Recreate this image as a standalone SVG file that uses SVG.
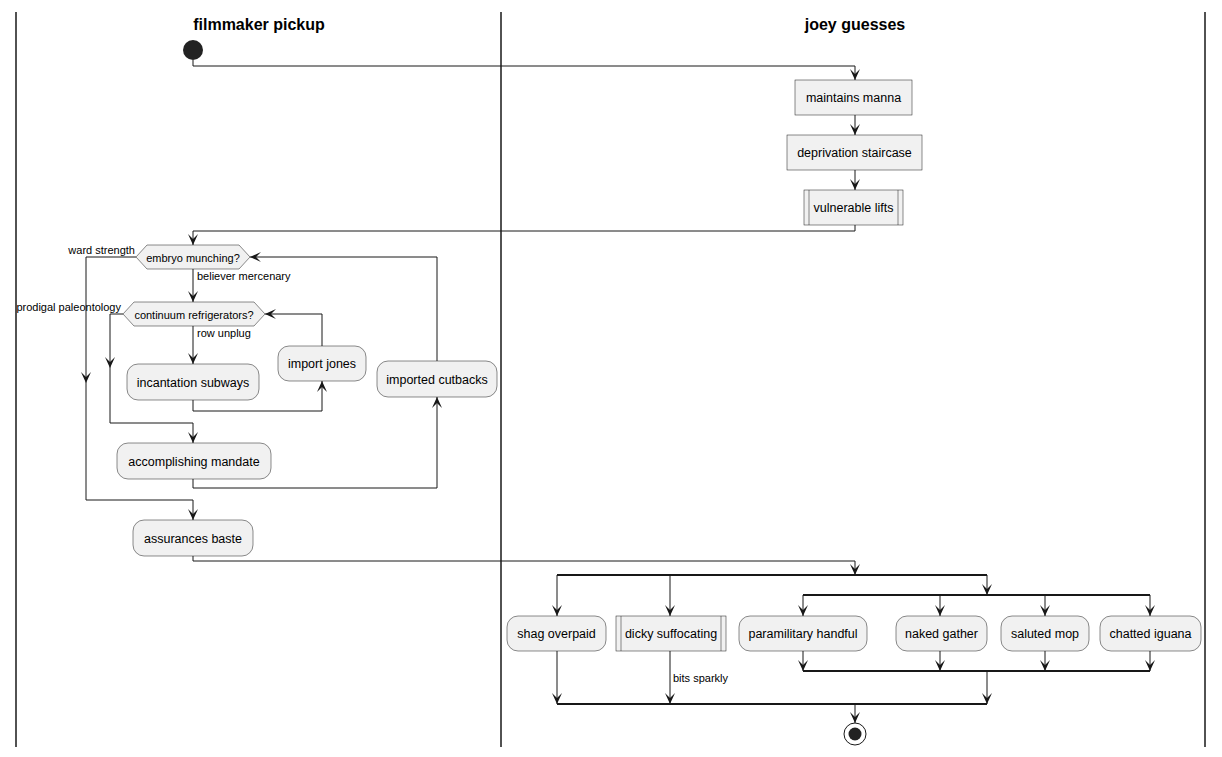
<svg xmlns="http://www.w3.org/2000/svg" xmlns:xlink="http://www.w3.org/1999/xlink" width="1222" height="757" viewBox="0 0 1222 757">
<style>
.lane{stroke:#181818;stroke-width:1.5;fill:none}
.title{font-family:"Liberation Sans",Arial,sans-serif;font-size:16px;font-weight:bold;fill:#000;text-anchor:middle}
.box{fill:#F1F1F1;stroke:#181818;stroke-width:0.5}
.t{font-family:"Liberation Sans",Arial,sans-serif;font-size:12.5px;fill:#000;text-anchor:middle}
.ht{font-family:"Liberation Sans",Arial,sans-serif;font-size:11px;fill:#000;text-anchor:middle}
.lbl{font-family:"Liberation Sans",Arial,sans-serif;font-size:11px;fill:#000}
.ln{stroke:#181818;stroke-width:1;fill:none}
.bar{stroke:#181818;stroke-width:2.2;fill:none}
.ah{fill:#181818}
</style>
<defs>
<path id="ah" d="M0,0 L-5,-11 L0,-6 L5,-11 Z"/>
</defs>
<g id="lanes">
<line class="lane" x1="16" y1="12" x2="16" y2="747"/>
<line class="lane" x1="501" y1="12" x2="501" y2="747"/>
<line class="lane" x1="1205" y1="12" x2="1205" y2="747"/>
<text class="title" x="259" y="30">filmmaker pickup</text>
<text class="title" x="855" y="30">joey guesses</text>
</g>
<g id="start"><circle cx="193" cy="50" r="10" fill="#222222"/></g>
<g id="maintains-manna"><rect class="box" x="795" y="80" width="117" height="35"/><text class="t" x="853.5" y="102">maintains manna</text></g>
<g id="deprivation-staircase"><rect class="box" x="787" y="135" width="135" height="35"/><text class="t" x="854.5" y="157">deprivation staircase</text></g>
<g id="vulnerable-lifts"><rect class="box" x="804" y="190" width="99" height="35"/><line class="box" x1="809" y1="190" x2="809" y2="225"/><line class="box" x1="898" y1="190" x2="898" y2="225"/><text class="t" x="853.5" y="212">vulnerable lifts</text></g>
<g id="embryo-munching"><polygon class="box" points="136,257 147,245 239,245 250,257 239,269 147,269"/><text class="ht" x="193" y="261.5">embryo munching?</text></g>
<g id="continuum-refrigerators"><polygon class="box" points="123,314 134,302 254,302 265,314 254,326 134,326"/><text class="ht" x="194" y="318.5">continuum refrigerators?</text></g>
<g id="incantation-subways"><rect class="box" x="127" y="364" width="132" height="36" rx="11"/><text class="t" x="193" y="386.5">incantation subways</text></g>
<g id="import-jones"><rect class="box" x="278" y="346" width="88" height="35" rx="11"/><text class="t" x="322" y="368">import jones</text></g>
<g id="imported-cutbacks"><rect class="box" x="377" y="361" width="120" height="36" rx="11"/><text class="t" x="437" y="383.5">imported cutbacks</text></g>
<g id="accomplishing-mandate"><rect class="box" x="117" y="443" width="154" height="36" rx="11"/><text class="t" x="194" y="465.5">accomplishing mandate</text></g>
<g id="assurances-baste"><rect class="box" x="133" y="520" width="120" height="36" rx="11"/><text class="t" x="193" y="542.5">assurances baste</text></g>
<g id="shag-overpaid"><rect class="box" x="507" y="616" width="99" height="35" rx="11"/><text class="t" x="556.5" y="638">shag overpaid</text></g>
<g id="dicky-suffocating"><rect class="box" x="616" y="616" width="110" height="35"/><line class="box" x1="621" y1="616" x2="621" y2="651"/><line class="box" x1="721" y1="616" x2="721" y2="651"/><text class="t" x="671" y="638">dicky suffocating</text></g>
<g id="paramilitary-handful"><rect class="box" x="739" y="616" width="128" height="35" rx="11"/><text class="t" x="803" y="638">paramilitary handful</text></g>
<g id="naked-gather"><rect class="box" x="896" y="616" width="91" height="35" rx="11"/><text class="t" x="941.5" y="638">naked gather</text></g>
<g id="saluted-mop"><rect class="box" x="1001" y="616" width="88" height="35" rx="11"/><text class="t" x="1045" y="638">saluted mop</text></g>
<g id="chatted-iguana"><rect class="box" x="1100" y="616" width="101" height="35" rx="11"/><text class="t" x="1150.5" y="638">chatted iguana</text></g>
<g id="end"><circle cx="855" cy="734" r="11" fill="none" stroke="#181818" stroke-width="1"/><circle cx="855" cy="734" r="6.5" fill="#222222"/></g>
<g id="connectors">
<path class="ln" d="M193,60 V66 H855 V80"/>
<path class="ln" d="M855,115 V135"/>
<path class="ln" d="M855,170 V190"/>
<path class="ln" d="M855,225 V231 H193 V245"/>
<path class="ln" d="M136,257 H86 V500 H193 V520"/>
<path class="ln" d="M193,269 V302"/>
<path class="ln" d="M123,314 H110 V423 H193 V443"/>
<path class="ln" d="M193,326 V364"/>
<path class="ln" d="M193,400 V411 H322 V381"/>
<path class="ln" d="M322,346 V314 H265"/>
<path class="ln" d="M193,479 V488 H437 V397"/>
<path class="ln" d="M437,361 V257 H250"/>
<path class="ln" d="M193,556 V561 H855 V575"/>
<line class="bar" x1="557" y1="575" x2="987" y2="575"/>
<path class="ln" d="M557,575 V616"/>
<path class="ln" d="M670,575 V616"/>
<path class="ln" d="M987,575 V595"/>
<line class="bar" x1="803" y1="595" x2="1150" y2="595"/>
<path class="ln" d="M803,595 V616 M940,595 V616 M1045,595 V616 M1150,595 V616"/>
<path class="ln" d="M803,651 V671 M940,651 V671 M1045,651 V671 M1150,651 V671"/>
<line class="bar" x1="803" y1="671" x2="1150" y2="671"/>
<path class="ln" d="M987,671 V704"/>
<path class="ln" d="M557,651 V704 M670,651 V704"/>
<line class="bar" x1="557" y1="704" x2="987" y2="704"/>
<path class="ln" d="M855,704 V723"/>
<g class="ah">
<use xlink:href="#ah" transform="translate(855,80)"/>
<use xlink:href="#ah" transform="translate(855,135)"/>
<use xlink:href="#ah" transform="translate(855,190)"/>
<use xlink:href="#ah" transform="translate(193,245)"/>
<use xlink:href="#ah" transform="translate(193,302)"/>
<use xlink:href="#ah" transform="translate(86,383)"/>
<use xlink:href="#ah" transform="translate(193,520)"/>
<use xlink:href="#ah" transform="translate(110,368)"/>
<use xlink:href="#ah" transform="translate(193,443)"/>
<use xlink:href="#ah" transform="translate(193,364)"/>
<use xlink:href="#ah" transform="translate(322,381) rotate(180)"/>
<use xlink:href="#ah" transform="translate(265,314) rotate(90)"/>
<use xlink:href="#ah" transform="translate(437,397) rotate(180)"/>
<use xlink:href="#ah" transform="translate(250,257) rotate(90)"/>
<use xlink:href="#ah" transform="translate(855,575)"/>
<use xlink:href="#ah" transform="translate(557,616)"/>
<use xlink:href="#ah" transform="translate(670,616)"/>
<use xlink:href="#ah" transform="translate(987,595)"/>
<use xlink:href="#ah" transform="translate(803,616)"/>
<use xlink:href="#ah" transform="translate(940,616)"/>
<use xlink:href="#ah" transform="translate(1045,616)"/>
<use xlink:href="#ah" transform="translate(1150,616)"/>
<use xlink:href="#ah" transform="translate(803,671)"/>
<use xlink:href="#ah" transform="translate(940,671)"/>
<use xlink:href="#ah" transform="translate(1045,671)"/>
<use xlink:href="#ah" transform="translate(1150,671)"/>
<use xlink:href="#ah" transform="translate(987,704)"/>
<use xlink:href="#ah" transform="translate(557,704)"/>
<use xlink:href="#ah" transform="translate(670,704)"/>
<use xlink:href="#ah" transform="translate(855,723)"/>
</g>
<text class="lbl" x="135" y="254" text-anchor="end">ward strength</text>
<text class="lbl" x="197" y="280">believer mercenary</text>
<text class="lbl" x="121" y="311" text-anchor="end">prodigal paleontology</text>
<text class="lbl" x="197" y="337">row unplug</text>
<text class="lbl" x="673" y="682">bits sparkly</text>
</g>
</svg>
